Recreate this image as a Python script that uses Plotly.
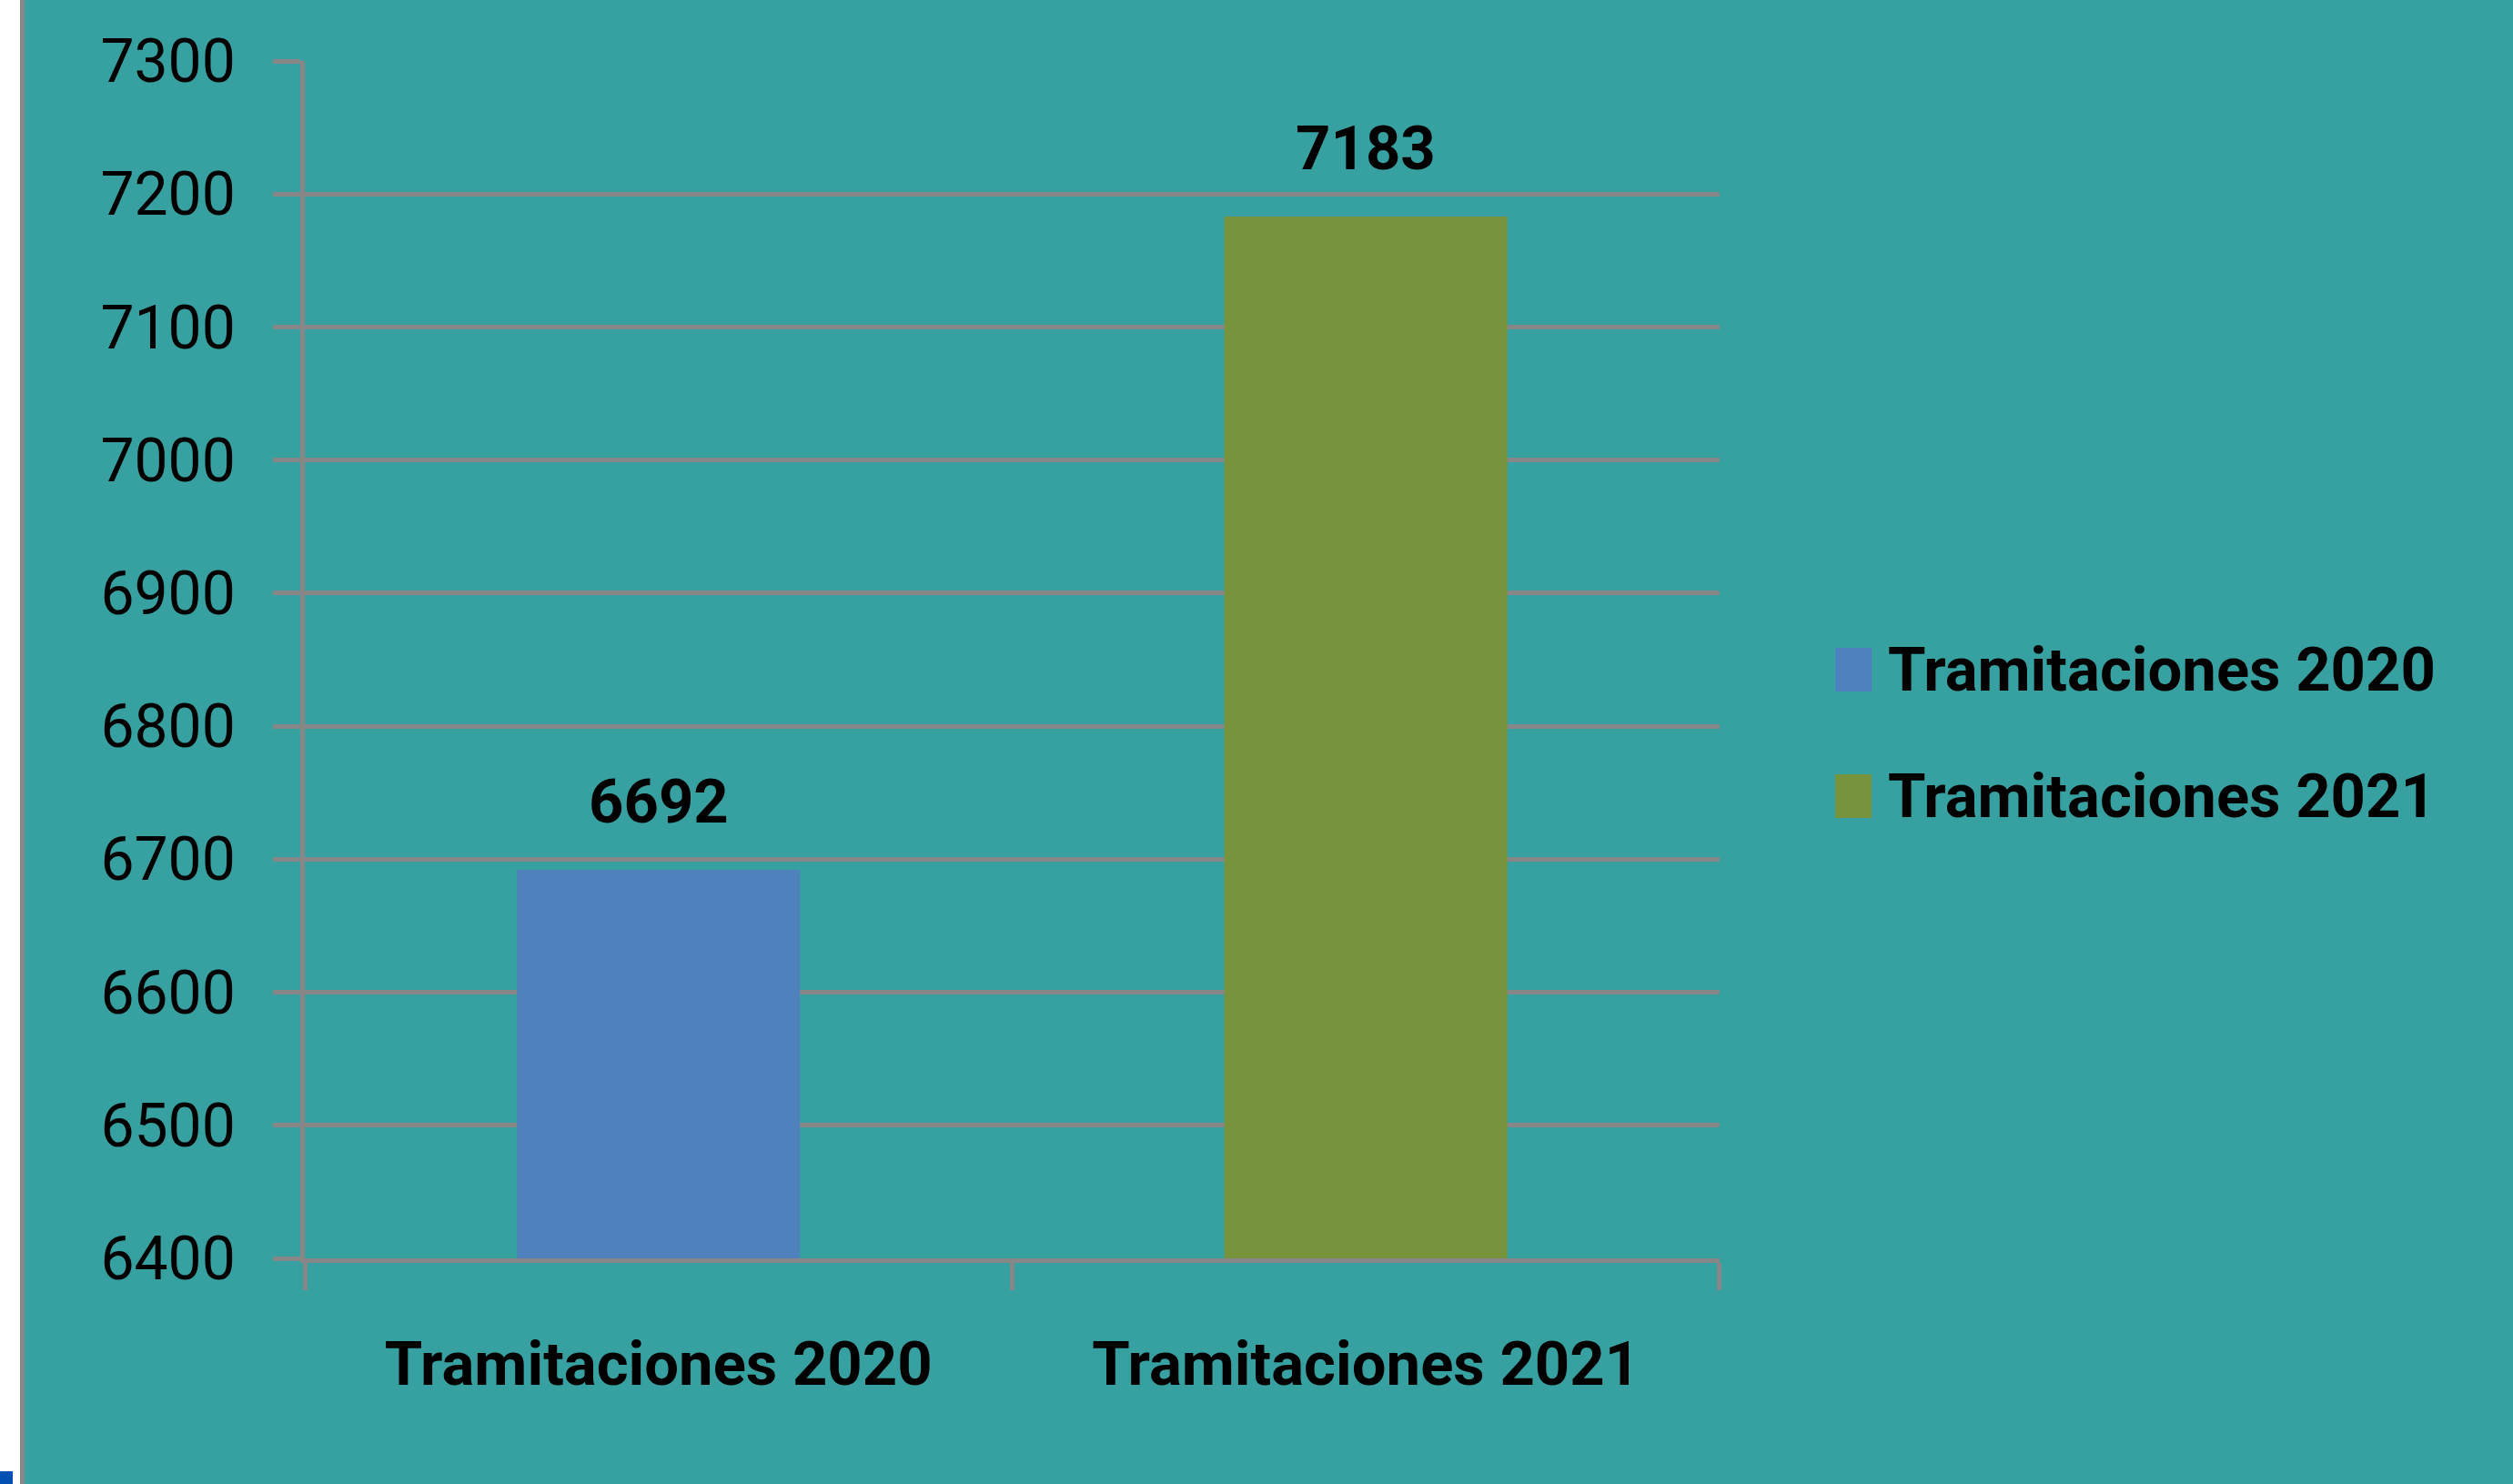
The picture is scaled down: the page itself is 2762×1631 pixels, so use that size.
import plotly.graph_objects as go

W, H = 2762, 1631

categories = ["Tramitaciones 2020", "Tramitaciones 2021"]
values = [6692, 7183]
series_names = ["Tramitaciones 2020", "Tramitaciones 2021"]
colors = ["#4F81BD", "#77933C"]
y_ticks = [6400, 6500, 6600, 6700, 6800, 6900, 7000, 7100, 7200, 7300]

BG = "#37A0A1"
GRID = "#878787"
FONT = "Roboto, Liberation Sans, sans-serif"
BOLD_SIZE = 67
TICK_SIZE = 66

fig = go.Figure()
for cat, val, name, col in zip(categories, values, series_names, colors):
    fig.add_trace(go.Bar(
        x=[cat], y=[val], name=name, marker=dict(color=col, line=dict(width=0)),
        width=0.4, showlegend=False,
    ))
    fig.add_annotation(
        x=cat, y=val, xref="x", yref="y", text=f"<b>{val}</b>", showarrow=False,
        yanchor="bottom", yshift=34, font=dict(family=FONT, size=BOLD_SIZE, color="#000000"),
    )

# manual legend (large swatches)
leg_x = 2017 / W
leg_rows = [736, 875]
for name, col, yc in zip(series_names, colors, leg_rows):
    yp = 1 - yc / H
    fig.add_shape(type="rect", xref="paper", yref="paper",
                  x0=leg_x, x1=leg_x + 40 / W, y0=yp - 24 / H, y1=yp + 24 / H,
                  fillcolor=col, line=dict(width=0))
    fig.add_annotation(x=leg_x + 56 / W, y=yp, xref="paper", yref="paper",
                       text=f"<b>{name}</b>", showarrow=False, xanchor="left", yanchor="middle",
                       font=dict(family=FONT, size=BOLD_SIZE, color="#000000"))

# screenshot border details
fig.add_shape(type="rect", xref="paper", yref="paper", x0=0, x1=22 / W, y0=0, y1=1,
              fillcolor="#FFFFFF", line=dict(width=0), layer="below")
fig.add_shape(type="rect", xref="paper", yref="paper", x0=22 / W, x1=27 / W, y0=0, y1=1,
              fillcolor="#888888", line=dict(width=0), layer="below")
fig.add_shape(type="rect", xref="paper", yref="paper", x0=0, x1=14 / W, y0=0, y1=14 / H,
              fillcolor="#0050B4", line=dict(width=0))

x0p, x1p = 335 / W, 1890 / W
y_top, y_bot = 67, 1383

fig.update_layout(
    width=W, height=H,
    paper_bgcolor=BG, plot_bgcolor=BG,
    margin=dict(l=0, r=0, t=0, b=0),
    barmode="overlay",
    font=dict(family=FONT, size=TICK_SIZE, color="#000000"),
    xaxis=dict(
        domain=[x0p, x1p], type="category", categoryorder="array", categoryarray=categories,
        range=[-0.5, 1.5001],
        showline=True, linecolor=GRID, linewidth=5,
        ticks="outside", tickson="boundaries", ticklen=30, tickwidth=5, tickcolor=GRID,
        showgrid=False, automargin=False,
        tickfont=dict(family=FONT, size=BOLD_SIZE, color="#000000", weight="bold"),
        ticklabelstandoff=54,
    ),
    yaxis=dict(
        domain=[1 - y_bot / H, 1 - y_top / H], range=[6400, 7300],
        tickvals=y_ticks, ticktext=[str(v) for v in y_ticks],
        showline=True, linecolor=GRID, linewidth=5,
        ticks="outside", ticklen=30, tickwidth=5, tickcolor=GRID,
        showgrid=True, gridcolor=GRID, gridwidth=5, zeroline=False, automargin=False,
        tickfont=dict(family=FONT, size=TICK_SIZE, color="#000000"),
        ticklabelstandoff=28,
    ),
)

fig.write_html(
    "out.html",
    config={"displayModeBar": False},
    post_script="document.body.style.margin='0';document.body.style.overflow='hidden';",
)
